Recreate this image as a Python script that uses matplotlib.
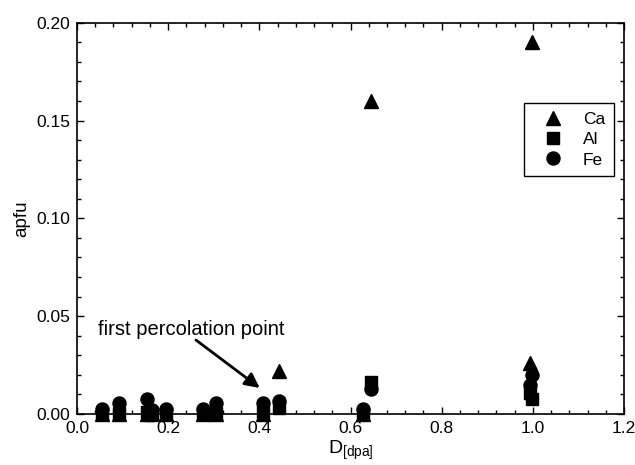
import numpy as np
import matplotlib
matplotlib.use("Agg")
import matplotlib.pyplot as plt
from matplotlib.ticker import MultipleLocator

plt.rcParams.update({
    "font.family": ["Liberation Sans", "DejaVu Sans"],
    "font.size": 12.5,
    "mathtext.fontset": "custom",
    "mathtext.rm": "Liberation Sans",
    "xtick.direction": "in",
    "ytick.direction": "in",
    "xtick.top": True,
    "ytick.right": True,
})

# dose D [dpa] and element contents (apfu)
dose = [0.054, 0.092, 0.153, 0.164, 0.195, 0.276, 0.306, 0.407, 0.443, 0.628, 0.645, 0.994, 0.998]
ca = [0.0, 0.0, 0.0, 0.0, 0.0, 0.0, 0.0, 0.0, 0.022, 0.0, 0.160, 0.026, 0.190]
al = [0.0, 0.0005, 0.001, 0.0, 0.0, 0.0, 0.0005, 0.001, 0.003, 0.0, 0.0165, 0.0107, 0.0077]
fe = [0.0026, 0.0058, 0.0077, 0.002, 0.0026, 0.0026, 0.0058, 0.0055, 0.0068, 0.0026, 0.0127, 0.0148, 0.0199]

fig = plt.figure(figsize=(6.35, 4.65), dpi=100)
ax = fig.add_axes([77 / 635, 1 - 414 / 465, 547 / 635, 391.3 / 465])

ms = 9.4
ax.plot(dose, ca, "^", color="black", ms=ms, label="Ca", clip_on=False, zorder=3)
ax.plot(dose, al, "s", color="black", ms=ms - 1.4, label="Al", clip_on=False, zorder=3)
ax.plot(dose, fe, "o", color="black", ms=ms, label="Fe", clip_on=False, zorder=3)

ax.set_xlim(0.0, 1.2)
ax.set_ylim(0.0, 0.20)
ax.xaxis.set_major_locator(MultipleLocator(0.2))
ax.xaxis.set_minor_locator(MultipleLocator(0.04))
ax.yaxis.set_major_locator(MultipleLocator(0.05))
ax.yaxis.set_minor_locator(MultipleLocator(0.01))
ax.xaxis.set_major_formatter("{x:.1f}")
ax.yaxis.set_major_formatter("{x:.2f}")
ax.tick_params(which="major", length=5, width=1, pad=5)
ax.tick_params(which="minor", length=3, width=1)
for s in ax.spines.values():
    s.set_linewidth(1.2)

ax.set_xlabel(r"D$_{\rm [dpa]}$", fontsize=14, labelpad=2)
ax.set_ylabel("apfu", fontsize=13.5, labelpad=4)

ax.text(0.046, 0.043, "first percolation point", fontsize=14.5, va="center", ha="left")
ax.annotate("", xy=(0.401, 0.0133), xytext=(0.261, 0.0378),
            arrowprops=dict(arrowstyle="-|>", color="black", lw=2,
                            mutation_scale=22, shrinkA=0, shrinkB=0))

leg = ax.legend(loc="upper right", bbox_to_anchor=(614 / 635, 1 - 103 / 465),
                bbox_transform=fig.transFigure, fancybox=False, framealpha=1,
                edgecolor="black", handletextpad=0.6, handlelength=2.3,
                borderpad=0.5, labelspacing=0.3, borderaxespad=0, fontsize=12.5)
leg.get_frame().set_linewidth(1.0)

fig.savefig("out.png", dpi=100)
